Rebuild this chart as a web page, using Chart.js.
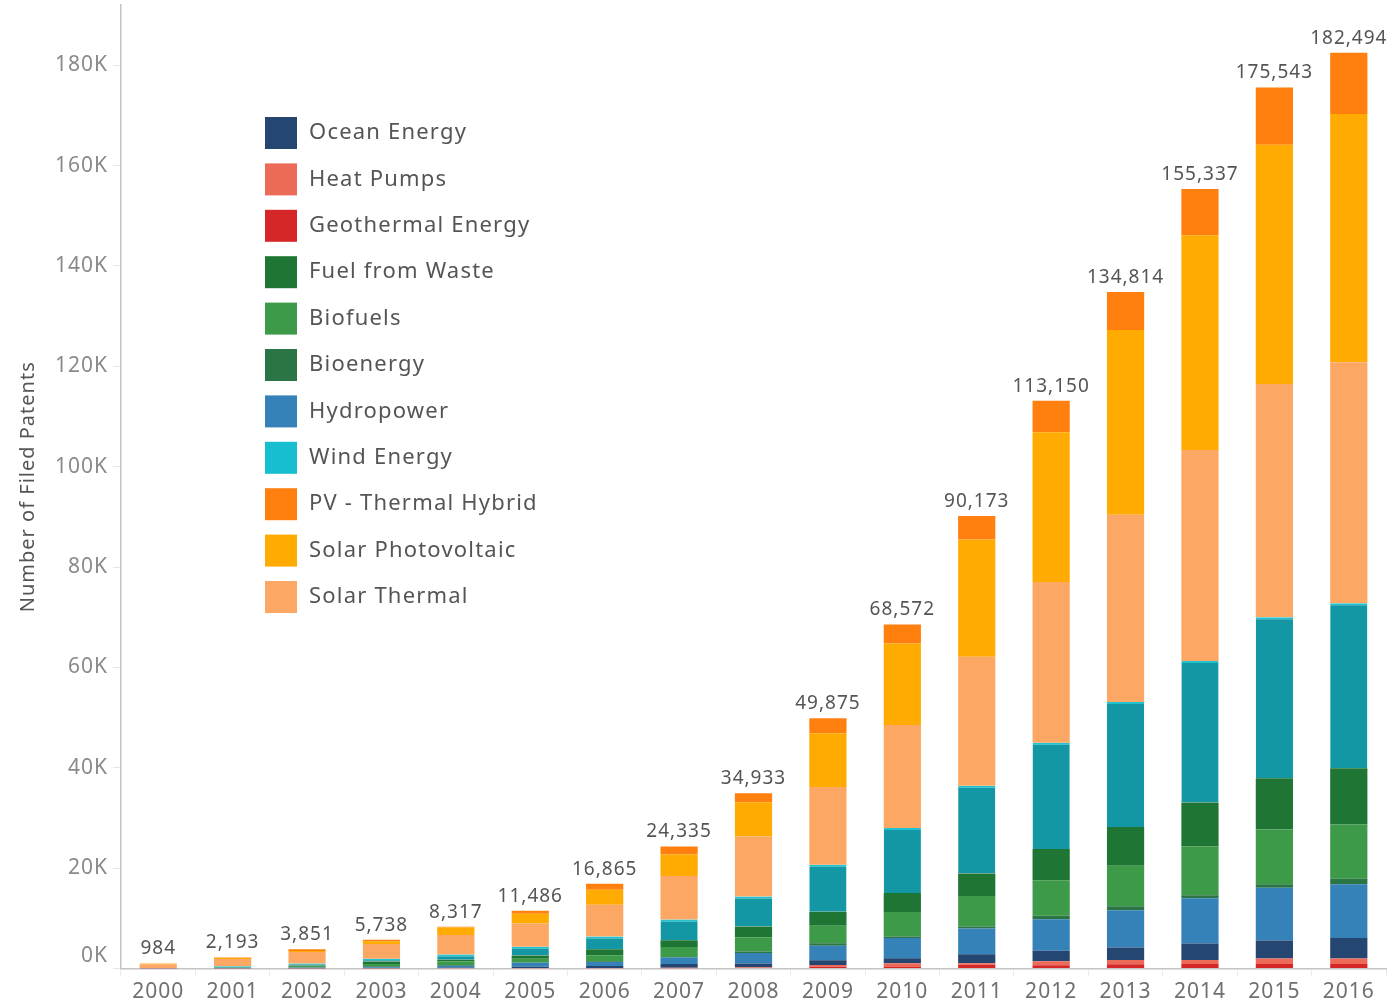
<!DOCTYPE html>
<html>
<head>
<meta charset="utf-8">
<script src="https://cdn.jsdelivr.net/npm/chart.js@4"></script>
<style>
  html, body { margin: 0; padding: 0; background: #fff; }
  .content { width: 1400px; height: 1002px; }
</style>
</head>
<body>
<div class="content"><canvas id="chart" width="1400" height="1002"></canvas></div>
<script>
var years = ['2000', '2001', '2002', '2003', '2004', '2005', '2006', '2007', '2008',
  '2009', '2010', '2011', '2012', '2013', '2014', '2015', '2016'];

// y axis ticks
var yTicks = [0, 20000, 40000, 60000, 80000, 100000, 120000, 140000, 160000, 180000];

// totals printed above the bars
var totals = [984, 2193, 3851, 5738, 8317, 11486, 16865, 24335, 34933,
  49875, 68572, 90173, 113150, 134814, 155337, 175543, 182494];

// series, bottom of the stack first
var geothermal   = [5, 5, 10, 20, 50, 50, 50, 50, 100, 350, 300, 750, 650, 850, 900, 900, 900];
var heatPumps    = [5, 5, 10, 20, 50, 50, 50, 100, 150, 350, 750, 300, 800, 850, 800, 1100, 1100];
var ocean        = [5, 10, 30, 50, 100, 250, 400, 750, 750, 950, 1000, 1800, 2100, 2500, 3300, 3600, 4100];
var hydropower   = [10, 50, 100, 150, 350, 800, 800, 1300, 2100, 2900, 4050, 5100, 6250, 7400, 9000, 10500, 10700];
var bioenergy    = [5, 10, 50, 200, 150, 100, 150, 100, 300, 500, 300, 400, 700, 800, 600, 700, 1100];
var biofuels     = [10, 30, 150, 450, 700, 700, 1200, 2000, 2850, 3450, 4850, 6100, 7100, 8100, 9700, 10900, 10800];
var fuelWaste    = [10, 30, 250, 500, 350, 650, 1200, 1350, 2100, 2800, 3800, 4500, 6200, 7700, 8800, 10200, 11200];
var wind         = [30, 300, 400, 550, 1050, 1750, 2550, 4100, 6000, 9350, 12950, 17450, 21200, 24900, 28200, 32100, 32900];
var solarThermal = [754, 1453, 2301, 2948, 3867, 4636, 6315, 8685, 11950, 15500, 20500, 25700, 32000, 37300, 42000, 46500, 48000];
var solarPV      = [100, 200, 200, 550, 1500, 1900, 3000, 4300, 6833, 10725, 16272, 23373, 29850, 36814, 42837, 47643, 49494];
var pvHybrid     = [50, 100, 350, 300, 150, 600, 1150, 1600, 1800, 3000, 3800, 4700, 6300, 7600, 9200, 11400, 12200];

var legendOrder = ['Ocean Energy', 'Heat Pumps', 'Geothermal Energy', 'Fuel from Waste', 'Biofuels',
  'Bioenergy', 'Hydropower', 'Wind Energy', 'PV - Thermal Hybrid', 'Solar Photovoltaic', 'Solar Thermal'];

var FONT = '"Noto Sans", sans-serif';

function series(label, data, color, swatch) {
  return {
    label: label,
    data: data,
    backgroundColor: color,
    swatch: swatch || color,
    borderWidth: 0,
    barPercentage: 0.5,
    categoryPercentage: 1.0
  };
}

var datasets = [
  series('Geothermal Energy', geothermal, '#d62728'),
  series('Heat Pumps', heatPumps, '#ec6a58'),
  series('Ocean Energy', ocean, '#254670'),
  series('Hydropower', hydropower, '#3582b9'),
  series('Bioenergy', bioenergy, '#2b7444'),
  series('Biofuels', biofuels, '#3c9a48'),
  series('Fuel from Waste', fuelWaste, '#1e7534'),
  series('Wind Energy', wind, '#1397a5', '#17becf'),
  series('Solar Thermal', solarThermal, '#fca864'),
  series('Solar Photovoltaic', solarPV, '#ffab02'),
  series('PV - Thermal Hybrid', pvHybrid, '#ff7f0f')
];
// thin cyan cap on the wind segments
datasets[7].borderColor = '#22c3d0';
datasets[7].borderWidth = { top: 2, right: 0, bottom: 0, left: 0 };
datasets[7].borderSkipped = 'start';

function findSet(list, name) {
  for (var i = 0; i < list.length; i++) { if (list[i].label === name) return list[i]; }
}

// the source font runs a bit wider than Noto Sans
var spacingPlugin = {
  id: 'spacing',
  beforeUpdate: function(chart) { chart.ctx.letterSpacing = '1px'; }
};

var totalsPlugin = {
  id: 'totals',
  afterDatasetsDraw: function(chart) {
    var ctx = chart.ctx;
    var meta = chart.getDatasetMeta(chart.data.datasets.length - 1);
    var y = chart.scales.y;
    ctx.save();
    ctx.font = '19px ' + FONT;
    ctx.fillStyle = '#555';
    ctx.textAlign = 'center';
    ctx.textBaseline = 'bottom';
    totals.forEach(function(t, i) {
      ctx.fillText(t.toLocaleString('en-US'), meta.data[i].x, y.getPixelForValue(t) - 5);
    });
    ctx.restore();
  }
};

var legendPlugin = {
  id: 'insideLegend',
  afterDraw: function(chart) {
    var ctx = chart.ctx;
    var area = chart.chartArea;
    var left = area.left + 144;
    var top = area.top + 128;
    ctx.save();
    ctx.font = '22px ' + FONT;
    ctx.letterSpacing = '1.2px';
    ctx.textAlign = 'left';
    ctx.textBaseline = 'middle';
    legendOrder.forEach(function(name, i) {
      var ds = findSet(chart.data.datasets, name);
      var cy = top + i * 46.4;
      ctx.fillStyle = ds.swatch;
      ctx.fillRect(left, cy - 16, 32, 32);
      ctx.fillStyle = '#555';
      ctx.fillText(name, left + 44, cy);
    });
    ctx.restore();
  }
};

new Chart(document.getElementById('chart'), {
  type: 'bar',
  data: { labels: years, datasets: datasets },
  options: {
    responsive: false,
    animation: false,
    layout: { padding: { top: 5, right: 14, left: 0, bottom: 0 } },
    plugins: {
      legend: { display: false },
      tooltip: { enabled: false }
    },
    scales: {
      x: {
        stacked: true,
        grid: { display: true, drawOnChartArea: false, drawTicks: true, tickLength: 8, color: '#ececec' },
        border: { display: true, color: '#c4c4c4', width: 1.5 },
        ticks: { color: '#6f6f6f', font: { family: FONT, size: 21 }, padding: 3 },
        afterFit: function(scale) { scale.height = 33.5; }
      },
      y: {
        stacked: true,
        min: 0,
        max: 192000,
        grid: { display: true, drawOnChartArea: false, drawTicks: true, tickLength: 8, color: '#e6e6e6' },
        border: { display: true, color: '#c4c4c4', width: 1.5 },
        ticks: {
          color: '#8a8a8a',
          font: { family: FONT, size: 21 },
          padding: 5,
          autoSkip: false,
          callback: function(v) {
            // the zero label sits a little above its tick
            return v === 0 ? ['0K', ''] : (v / 1000) + 'K';
          }
        },
        afterBuildTicks: function(scale) {
          scale.ticks = yTicks.map(function(v) { return { value: v }; });
        },
        title: {
          display: true,
          text: 'Number of Filed Patents',
          color: '#555',
          font: { family: FONT, size: 20 },
          padding: { top: 16, bottom: 0 }
        },
        afterFit: function(scale) {
          scale.width = 121;
          scale.paddingTop = 0;
          scale.paddingBottom = 0;
        }
      }
    }
  },
  plugins: [spacingPlugin, totalsPlugin, legendPlugin]
});
</script>
</body>
</html>
